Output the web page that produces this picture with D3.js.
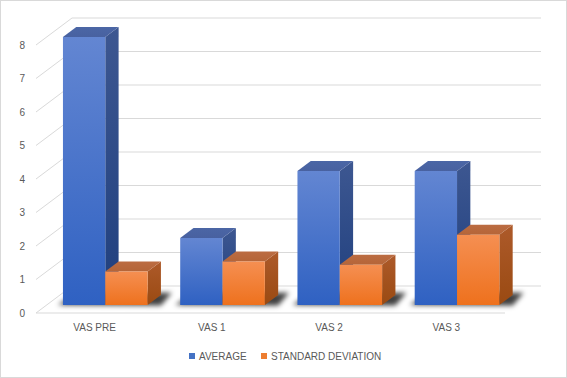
<!DOCTYPE html>
<html><head><meta charset="utf-8">
<script src="https://cdn.jsdelivr.net/npm/d3@7/dist/d3.min.js"></script>
<style>html,body{margin:0;padding:0;background:#fff}svg{display:block}</style>
</head><body>
<script>
const categories = ["VAS PRE", "VAS 1", "VAS 2", "VAS 3"];
const seriesNames = ["AVERAGE", "STANDARD DEVIATION"];
const averageValues = [8.0, 2.0, 4.0, 4.0];
const stdDevValues = [1.0, 1.3, 1.2, 2.1];
const yTicks = [0, 1, 2, 3, 4, 5, 6, 7, 8];

const W = 567, H = 378;
const DX = 36, DY = 27;          // depth offset of back wall
const D0 = 0.296, D1 = 0.666;    // bar depth range (fraction)

const svg = d3.select("body").append("svg").attr("width", W).attr("height", H);
const defs = svg.append("defs");

function grad(id, c1, c2) {
  const g = defs.append("linearGradient").attr("id", id).attr("x1", 0).attr("y1", 0).attr("x2", 0).attr("y2", 1);
  g.append("stop").attr("offset", "0%").attr("stop-color", c1);
  g.append("stop").attr("offset", "100%").attr("stop-color", c2);
}
grad("bFront", "#6386d2", "#2f61c2");
grad("bSide", "#3d5791", "#1f3f7e");
grad("bTop", "#4b66a5", "#4861a0");
grad("oFront", "#f58f52", "#ee711d");
grad("oSide", "#ad5a2a", "#9a4a12");
grad("oTop", "#bb6c42", "#b56538");
defs.append("filter").attr("id", "blur").attr("x", "-50%").attr("y", "-100%").attr("width", "200%").attr("height", "300%")
  .append("feGaussianBlur").attr("stdDeviation", 2.6);

const x0 = d3.scaleBand().domain(categories).range([36, 505]);
const x1 = d3.scaleBand().domain(seriesNames).range([16.3, x0.bandwidth() - 16.3]);
const y = d3.scaleLinear().domain([0, 8]).range([313, 45]);

const P = (x, v, d) => [x + d * DX, y(v) - d * DY];
const poly = pts => "M" + pts.map(p => p.join(",")).join("L") + "Z";

// outer border
svg.append("rect").attr("x", 0.5).attr("y", 0.5).attr("width", W - 1).attr("height", H - 1)
  .attr("fill", "#fff").attr("stroke", "#d9d9d9");

const gridC = "#d9d9d9";
const xL = x0.range()[0], xR = x0.range()[1];
// back wall gridlines
svg.append("g").selectAll("line").data(yTicks).join("line")
  .attr("x1", xL + DX).attr("x2", xR + DX)
  .attr("y1", d => P(0, d, 1)[1]).attr("y2", d => P(0, d, 1)[1])
  .attr("stroke", gridC).attr("stroke-width", 1);
// side wall diagonals
svg.append("g").selectAll("line").data(yTicks).join("line")
  .attr("x1", xL).attr("y1", d => y(d)).attr("x2", xL + DX).attr("y2", d => P(0, d, 1)[1])
  .attr("stroke", gridC).attr("stroke-width", 1);
// floor front line
svg.append("line").attr("x1", xL).attr("x2", xR).attr("y1", y(0)).attr("y2", y(0))
  .attr("stroke", gridC).attr("stroke-width", 1);

// y labels
svg.append("g").selectAll("text").data(yTicks).join("text")
  .attr("x", 25).attr("y", d => y(d) + 3.5).attr("text-anchor", "end")
  .attr("font-family", "Liberation Sans, Arial, sans-serif").attr("font-size", 10).attr("fill", "#595959")
  .text(d => d);

// category labels
svg.append("g").selectAll("text").data(categories).join("text")
  .attr("x", d => x0(d) + x0.bandwidth() / 2).attr("y", 331).attr("text-anchor", "middle")
  .attr("font-family", "Liberation Sans, Arial, sans-serif").attr("font-size", 10).attr("fill", "#595959")
  .text(d => d);

const data = categories.map((c, i) => ({
  cat: c,
  bars: [
    { s: seriesNames[0], v: averageValues[i], k: "b" },
    { s: seriesNames[1], v: stdDevValues[i], k: "o" }
  ]
}));

// shadows
const sh = svg.append("g").attr("filter", "url(#blur)");
data.forEach(g => {
  const xa = x0(g.cat) + x1.range()[0];
  const xb = x0(g.cat) + x1.range()[1];
  const a = P(xa - 5, 0, D0), b = P(xb + 14, 0, D0 - 0.02), c = P(xb + 8, 0, D1 + 0.08), d = P(xa - 3, 0, D1 + 0.08);
  sh.append("path").attr("d", poly([a, b, c, d])).attr("fill", "#000").attr("opacity", 0.75);
});

// bars
data.forEach(g => {
  const gg = svg.append("g");
  g.bars.forEach(b => {
    const xa = x0(g.cat) + x1(b.s), xb = xa + x1.bandwidth();
    const fTL = P(xa, b.v, D0), fTR = P(xb, b.v, D0), fBR = P(xb, 0, D0), fBL = P(xa, 0, D0);
    const bTL = P(xa, b.v, D1), bTR = P(xb, b.v, D1), bBR = P(xb, 0, D1);
    gg.append("path").attr("d", poly([fTR, bTR, bBR, fBR])).attr("fill", `url(#${b.k}Side)`);
    gg.append("path").attr("d", poly([fTL, fTR, bTR, bTL])).attr("fill", `url(#${b.k}Top)`);
    gg.append("path").attr("d", poly([fTL, fTR, fBR, fBL])).attr("fill", `url(#${b.k}Front)`);
  });
});

// legend
const legend = svg.append("g");
const legItems = [
  { name: seriesNames[0], color: "#4472c4", x: 189 },
  { name: seriesNames[1], color: "#ed7d31", x: 261 }
];
legItems.forEach(l => {
  legend.append("rect").attr("x", l.x).attr("y", 353).attr("width", 6).attr("height", 6).attr("fill", l.color);
  legend.append("text").attr("x", l.x + 10).attr("y", 360)
    .attr("font-family", "Liberation Sans, Arial, sans-serif").attr("font-size", 10).attr("fill", "#595959")
    .text(l.name);
});
</script>
</body></html>
